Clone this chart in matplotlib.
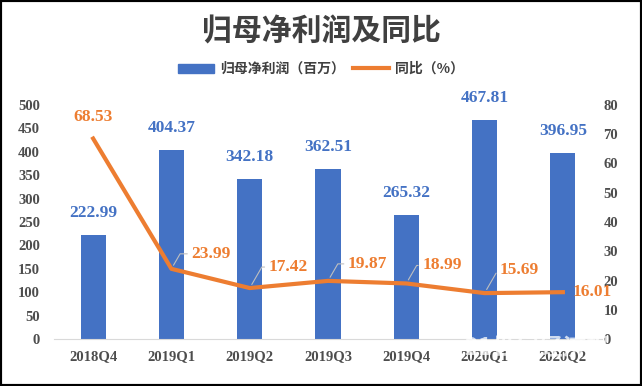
import numpy as np
import matplotlib.pyplot as plt
from matplotlib.patches import Rectangle

plt.rcParams['font.family'] = ['Noto Sans CJK SC', 'DejaVu Sans']

quarters = ["2018Q4", "2019Q1", "2019Q2", "2019Q3", "2019Q4", "2020Q1", "2020Q2"]
profit = [222.99, 404.37, 342.18, 362.51, 265.32, 467.81, 396.95]
yoy = [68.53, 23.99, 17.42, 19.87, 18.99, 15.69, 16.01]

blue = "#4472C4"
orange = "#ED7D31"
grey = "#4D4D4D"
num_font = "Liberation Serif"

fig = plt.figure(figsize=(6.42, 3.86), dpi=100)
ax = fig.add_axes([54/642, 47/386, 548/642, 234/386])
ax2 = ax.twinx()

x = np.arange(len(quarters))
ax.bar(x, profit, width=0.32, color=blue, zorder=2)
ax2.plot(x, yoy, color=orange, lw=3, solid_joinstyle='round', zorder=3)

ax.set_xlim(-0.5, len(quarters) - 0.5)
ax.set_ylim(0, 500)
ax2.set_ylim(0, 80)
ax.set_yticks(range(0, 501, 50))
ax2.set_yticks(range(0, 81, 10))
ax.set_xticks(x)
ax.set_xticklabels(quarters)

for a in (ax, ax2):
    for s in a.spines.values():
        s.set_visible(False)
    a.tick_params(length=0, colors=grey, labelsize=10.5)
    for lab in a.get_xticklabels() + a.get_yticklabels():
        lab.set_fontfamily(num_font)
        lab.set_fontweight('bold')
ax.spines['bottom'].set_visible(True)
ax.spines['bottom'].set_color('#D9D9D9')
ax.tick_params(axis='x', pad=8)
ax.tick_params(axis='y', pad=10)
ax2.tick_params(axis='y', pad=1)

# bar labels
for xi, v in zip(x, profit):
    ax.annotate(f"{v:.2f}", (xi, v), xytext=(0, 14), textcoords='offset pixels',
                ha='center', va='bottom', color=blue, fontsize=12.5,
                fontfamily=num_font, fontweight='bold')

# line labels with leader lines
offsets = [None, (20, 15), (19, 21), (20, 17), (16, 18), (15, 23), None]
for xi, v, off in zip(x, yoy, offsets):
    if xi == 0:
        ax2.annotate(f"{v:.2f}", (xi, v), xytext=(0, 14), textcoords='offset pixels',
                     ha='center', va='bottom', color=orange, fontsize=12.5,
                     fontfamily=num_font, fontweight='bold')
    elif off is None:
        ax2.annotate(f"{v:.2f}", (xi, v), xytext=(10, 0), textcoords='offset pixels',
                     ha='left', va='center', color=orange, fontsize=12.5,
                     fontfamily=num_font, fontweight='bold')
    else:
        ax2.annotate(f"{v:.2f}", (xi, v), xytext=off, textcoords='offset pixels',
                     ha='left', va='center', color=orange, fontsize=12.5,
                     fontfamily=num_font, fontweight='bold',
                     arrowprops=dict(arrowstyle='-', color='#BFBFBF', lw=0.8,
                                     connectionstyle='angle,angleA=0,angleB=60',
                                     shrinkA=1, shrinkB=3))

fig.text(0.5, 1 - 31/386, "归母净利润及同比", ha='center', va='center',
         fontsize=21.5, fontweight='bold', color='#404040')

h1 = Rectangle((0, 0), 1, 1, color=blue)
h2, = ax.plot([], [], color=orange, lw=3)
fig.legend([h1, h2], ["归母净利润（百万）", "同比（%）"], loc='center',
           bbox_to_anchor=(0.5, 1 - 69/386), ncol=2, frameon=False,
           prop={'size': 10, 'weight': 'bold'}, labelcolor='#404040',
           handlelength=2.6, handleheight=0.6, columnspacing=0.6, handletextpad=0.4)

# watermark
fig.text(0.855, 1 - 349/386, "21世纪经济报道", ha='center', va='center',
         fontsize=17, fontweight='bold', color='white', alpha=0.75, zorder=10)
fig.text(0.855, 1 - 369/386, "21ST CENTURY BUSINESS HERALD", ha='center', va='center',
         fontsize=6.5, style='italic', color='white', alpha=0.75, zorder=10,
         fontfamily='DejaVu Serif')

fig.patches.append(Rectangle((0, 0), 1, 1, transform=fig.transFigure, fill=False,
                             edgecolor='black', lw=3))

fig.savefig("out.png", dpi=100)
